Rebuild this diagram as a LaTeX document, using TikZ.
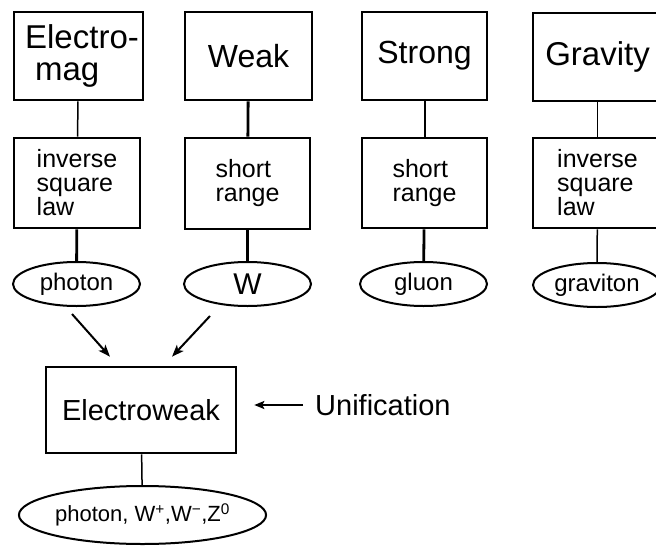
\documentclass[tikz,border=0pt]{standalone}
\usepackage{fontspec}
\setmainfont{Liberation Sans}
\usetikzlibrary{shapes.geometric,arrows.meta}
\begin{document}
\begin{tikzpicture}[x=1pt,y=-1pt,
  box/.style={draw, line width=2.6pt, inner sep=0pt, align=left},
  ell/.style={draw, ellipse, line width=2pt, inner sep=0pt, minimum height=44pt, minimum width=127pt},
  bigtxt/.style={font=\fontsize{32}{32}\selectfont},
  midtxt/.style={font=\fontsize{25}{24}\selectfont},
  elltxt/.style={font=\fontsize{24}{24}\selectfont},
  thinln/.style={line width=1.5pt},
  medln/.style={line width=2pt},
  thickln/.style={line width=2.8pt},
  arr/.style={line width=2pt, -{Stealth[length=12pt,width=9pt,inset=3pt]}}
]
\useasboundingbox (0,0) rectangle (656,546);
\clip (0,0) rectangle (656,546);

% top row
\node[box,font=\fontsize{33}{32}\selectfont,minimum width=129pt,minimum height=88pt] (em) at (78.5,56) {\hspace*{7pt}Electro-\\\hspace*{17pt}mag};
\node[box,bigtxt,minimum width=127pt,minimum height=88pt] (wk) at (248.5,56) {Weak};
\node[box,bigtxt,minimum width=125pt,minimum height=88pt] (st) at (424.5,56) {Strong};
\node[box,font=\fontsize{33}{32}\selectfont,minimum width=129pt,minimum height=88pt] (gr) at (597.5,57) {Gravity};

% middle row
\node[box,midtxt,minimum width=126pt,minimum height=90pt] (em2) at (77,183) {inverse\\square\\law};
\node[box,midtxt,minimum width=125pt,minimum height=91pt] (wk2) at (247.5,183.5) {short\\range};
\node[box,midtxt,minimum width=125pt,minimum height=90pt] (st2) at (424.5,183) {short\\range};
\node[box,midtxt,minimum width=129pt,minimum height=90pt] (gr2) at (597.5,183) {inverse\\square\\law};

% ellipses
\node[ell,elltxt] (ph) at (76.5,284) {photon};
\node[ell,font=\fontsize{30}{30}\selectfont] (w) at (247.5,284) {W};
\node[ell,elltxt] (gl) at (423.5,284) {gluon};
\node[ell,elltxt,minimum width=128pt] (gv) at (597,285) {graviton};

% connectors
\draw[thinln] (em) -- (em2);
\draw[thickln] (em2) -- (ph);
\draw[thickln] (wk) -- (wk2);
\draw[thickln] (wk2) -- (w);
\draw[medln] (st) -- (st2);
\draw[thickln] (st2) -- (gl);
\draw[thinln] (gr) -- (gr2);
\draw[thinln] (gr2) -- (gv);

% electroweak
\node[box,font=\fontsize{29}{29}\selectfont,minimum width=190pt,minimum height=86pt] (ew) at (141,410) {Electroweak};
\node[ell,font=\fontsize{22}{22}\selectfont,minimum width=209pt,minimum height=58pt] (ewb) at (142.5,515) {photon, W\textsuperscript{+},W\textsuperscript{−},Z\textsuperscript{0}};
\draw[thinln] (ew) -- (ewb);

\draw[arr] ([xshift=-4.5pt,yshift=-7pt]ph.south) -- ([xshift=-31pt,yshift=9pt]ew.north);
\draw[arr] ([xshift=-37.5pt,yshift=-9pt]w.south) -- ([xshift=31pt,yshift=9pt]ew.north);

\node[font=\fontsize{29}{29}\selectfont,inner sep=0pt,anchor=west] (uni) at (315,405) {Unification};
\draw[line width=2.2pt, -{Stealth[length=10pt,width=8pt,inset=2pt]}, shorten <=12pt, shorten >=17pt] (uni.west) -- (uni.west -| ew.east);
\end{tikzpicture}
\end{document}
